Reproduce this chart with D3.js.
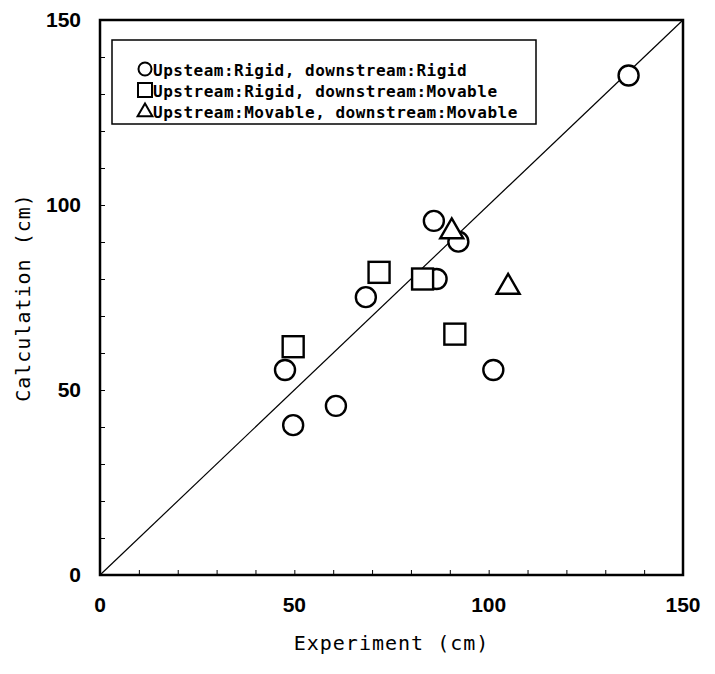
<!DOCTYPE html>
<html>
<head>
<meta charset="utf-8">
<script src="https://cdn.jsdelivr.net/npm/d3@7"></script>
<style>
  body { margin: 0; background: #fff; }
  svg { display: block; }
</style>
</head>
<body>
<div id="chart"></div>
<script>
// data (cm)
const rigidRigid = [
  { x: 47.6, y: 55.4 }, { x: 49.7, y: 40.5 }, { x: 60.7, y: 45.7 },
  { x: 68.4, y: 75.1 }, { x: 86.6, y: 80.0 }, { x: 85.9, y: 95.7 },
  { x: 92.2, y: 90.1 }, { x: 101.2, y: 55.4 }, { x: 136.0, y: 135.0 }
];
const rigidMovable = [
  { x: 49.7, y: 61.7 }, { x: 71.8, y: 81.8 }, { x: 83.0, y: 80.0 },
  { x: 91.3, y: 65.1 }
];
const movableMovable = [
  { x: 90.5, y: 92.8 }, { x: 105.0, y: 77.8 }
];
const legendLabels = [
  "Upsteam:Rigid, downstream:Rigid",
  "Upstream:Rigid, downstream:Movable",
  "Upstream:Movable, downstream:Movable"
];
const majorTicks = [0, 50, 100, 150];
const minorTicks = d3.range(0, 151, 10);

const margin = { top: 20, right: 32, bottom: 99, left: 100 };
const width = 715 - margin.left - margin.right;
const height = 674 - margin.top - margin.bottom;

const svg = d3.select("#chart").append("svg")
  .attr("width", 715).attr("height", 674);
const g = svg.append("g").attr("transform", `translate(${margin.left},${margin.top})`);

const x = d3.scaleLinear().domain([0, 150]).range([0, width]);
const y = d3.scaleLinear().domain([0, 150]).range([height, 0]);

const monoFont = "'DejaVu Sans Mono', 'Liberation Mono', monospace";
const numFont = "'Liberation Sans', Arial, sans-serif";

// inward minor ticks on bottom and left
g.append("g")
  .attr("transform", `translate(0,${height})`)
  .call(d3.axisBottom(x).tickValues(minorTicks).tickSize(-5).tickFormat(""))
  .call(a => a.select(".domain").remove())
  .call(a => a.selectAll("line").attr("stroke", "#000").attr("stroke-width", 1));
g.append("g")
  .call(d3.axisLeft(y).tickValues(minorTicks).tickSize(-5).tickFormat(""))
  .call(a => a.select(".domain").remove())
  .call(a => a.selectAll("line").attr("stroke", "#000").attr("stroke-width", 1));

// tick labels
g.append("g").selectAll("text").data(majorTicks).join("text")
  .attr("x", d => x(d)).attr("y", height + 37)
  .attr("text-anchor", "middle")
  .attr("font-family", numFont).attr("font-weight", "bold").attr("font-size", 21)
  .text(d => d);
g.append("g").selectAll("text").data(majorTicks).join("text")
  .attr("x", -19).attr("y", d => y(d) + 7)
  .attr("text-anchor", "end")
  .attr("font-family", numFont).attr("font-weight", "bold").attr("font-size", 21)
  .text(d => d);

// 1:1 line
g.append("line")
  .attr("x1", x(0)).attr("y1", y(0)).attr("x2", x(150)).attr("y2", y(150))
  .attr("stroke", "#000").attr("stroke-width", 1.2);

// frame
g.append("rect")
  .attr("width", width).attr("height", height)
  .attr("fill", "none").attr("stroke", "#000").attr("stroke-width", 2.5);

// markers
const sw = 2.4;
g.append("g").selectAll("circle").data(rigidRigid).join("circle")
  .attr("cx", d => x(d.x)).attr("cy", d => y(d.y)).attr("r", 10)
  .attr("fill", "#fff").attr("stroke", "#000").attr("stroke-width", sw);
g.append("g").selectAll("rect").data(rigidMovable).join("rect")
  .attr("x", d => x(d.x) - 10.5).attr("y", d => y(d.y) - 10.5)
  .attr("width", 21).attr("height", 21)
  .attr("fill", "#fff").attr("stroke", "#000").attr("stroke-width", sw);
const tri = d3.symbol().type(d3.symbolTriangle).size(230);
g.append("g").selectAll("path").data(movableMovable).join("path")
  .attr("transform", d => `translate(${x(d.x)},${y(d.y)})`)
  .attr("d", tri)
  .attr("fill", "#fff").attr("stroke", "#000").attr("stroke-width", sw)
  .attr("stroke-linejoin", "miter");

// legend
const legend = svg.append("g").attr("transform", "translate(112,40)");
legend.append("rect")
  .attr("width", 424).attr("height", 84)
  .attr("fill", "#fff").attr("stroke", "#000").attr("stroke-width", 1.5);
const rows = legend.selectAll("g.row").data(legendLabels).join("g")
  .attr("class", "row")
  .attr("transform", (d, i) => `translate(0,${30 + i * 21})`);
rows.append("text")
  .attr("x", 41).attr("y", 6)
  .attr("font-family", monoFont).attr("font-size", 16).attr("font-weight", "bold")
  .attr("letter-spacing", 0.5)
  .text(d => d);
rows.filter((d, i) => i === 0).append("circle")
  .attr("cx", 33).attr("cy", -1).attr("r", 6.5)
  .attr("fill", "#fff").attr("stroke", "#000").attr("stroke-width", 2);
rows.filter((d, i) => i === 1).append("rect")
  .attr("x", 26).attr("y", -8).attr("width", 14).attr("height", 14)
  .attr("fill", "#fff").attr("stroke", "#000").attr("stroke-width", 2);
rows.filter((d, i) => i === 2).append("path")
  .attr("transform", "translate(33,0)")
  .attr("d", d3.symbol().type(d3.symbolTriangle).size(95))
  .attr("fill", "#fff").attr("stroke", "#000").attr("stroke-width", 2);

// axis titles
svg.append("text")
  .attr("x", margin.left + width / 2).attr("y", 650)
  .attr("text-anchor", "middle")
  .attr("font-family", monoFont).attr("font-size", 20).attr("letter-spacing", 1)
  .text("Experiment (cm)");
svg.append("text")
  .attr("transform", `translate(30,${margin.top + height / 2}) rotate(-90)`)
  .attr("text-anchor", "middle")
  .attr("font-family", monoFont).attr("font-size", 20).attr("letter-spacing", 1)
  .text("Calculation (cm)");
</script>
</body>
</html>
